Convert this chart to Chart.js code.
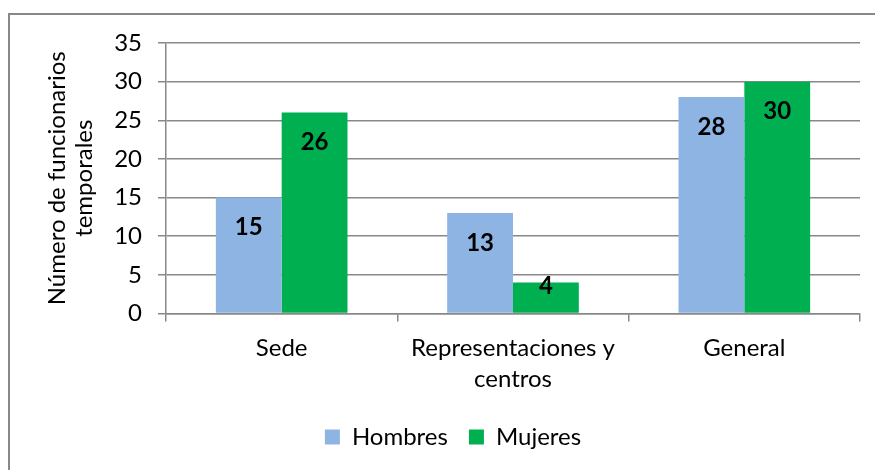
<!DOCTYPE html>
<html>
<head>
<meta charset="utf-8">
<script src="https://cdn.jsdelivr.net/npm/chart.js@4/dist/chart.umd.min.js"></script>
<style>
  html, body { margin: 0; padding: 0; background: #fff; }
  canvas { display: block; }
</style>
</head>
<body>
<canvas id="c" width="875" height="470"></canvas>
<script>
const categories = ['Sede', ['Representaciones y', 'centros'], 'General'];
const hombres = [15, 13, 28];
const mujeres = [26, 4, 30];
const seriesNames = ['Hombres', 'Mujeres'];
const yAxisTitle = ['Número de funcionarios', 'temporales'];
const yMin = 0, yMax = 35, yStep = 5;

const FONT = 'Lato';
const FS = 24;
const GRID = '#888888';

const frame = {
  id: 'frame',
  beforeDraw(chart) {
    const ctx = chart.ctx;
    ctx.save();
    ctx.fillStyle = '#fff';
    ctx.fillRect(0, 0, chart.width, chart.height);
    ctx.strokeStyle = '#888888';
    ctx.lineWidth = 2;
    ctx.strokeRect(9, 14, 900, 500);
    ctx.restore();
  }
};

const legendShift = {
  id: 'legendShift',
  afterLayout(chart) {
    if (chart.legend) { chart.legend.left += 23; chart.legend.right += 23; }
  }
};

const valueLabels = {
  id: 'valueLabels',
  afterDatasetsDraw(chart) {
    const ctx = chart.ctx;
    ctx.save();
    ctx.font = 'bold ' + FS + 'px ' + FONT;
    ctx.fillStyle = '#000';
    ctx.textAlign = 'center';
    ctx.textBaseline = 'middle';
    chart.data.datasets.forEach((ds, i) => {
      chart.getDatasetMeta(i).data.forEach((el, j) => {
        const y = Math.min(el.y + 30, el.base - 26);
        ctx.fillText(String(ds.data[j]), el.x, y);
      });
    });
    ctx.restore();
  }
};

function build() {
  new Chart(document.getElementById('c'), {
    type: 'bar',
    data: {
      labels: categories,
      datasets: [
        { label: seriesNames[0], data: hombres, backgroundColor: '#8EB4E3', borderWidth: 0,
          categoryPercentage: 0.569, barPercentage: 1 },
        { label: seriesNames[1], data: mujeres, backgroundColor: '#00B050', borderWidth: 0,
          categoryPercentage: 0.569, barPercentage: 1 }
      ]
    },
    options: {
      responsive: false,
      animation: false,
      devicePixelRatio: 1,
      layout: { padding: { left: 0, right: 15, top: 43, bottom: 11 } },
      plugins: {
        legend: {
          position: 'bottom',
          labels: {
            font: { family: FONT, size: FS },
            color: '#000',
            boxWidth: 15,
            boxHeight: 15,
            padding: 21
          }
        },
        tooltip: { enabled: false }
      },
      scales: {
        x: {
          afterFit(s) { s.height = 90.5; },
          grid: { drawOnChartArea: false, drawTicks: true, tickLength: 8, color: GRID, lineWidth: 1.5 },
          border: { display: true, color: GRID, width: 1.5 },
          ticks: {
            font: { family: FONT, size: FS, lineHeight: 1.3 },
            color: '#000',
            padding: 11,
            autoSkip: false,
            maxRotation: 0
          }
        },
        y: {
          min: yMin, max: yMax,
          afterFit(s) { s.width = 166; },
          grid: { color: GRID, lineWidth: 1.5, tickLength: 8 },
          border: { display: true, color: GRID, width: 1.5 },
          ticks: {
            stepSize: yStep,
            font: { family: FONT, size: FS },
            color: '#000',
            padding: 16
          },
          title: {
            display: true,
            text: yAxisTitle,
            font: { family: FONT, size: FS, lineHeight: 1.15 },
            color: '#000',
            padding: { top: 43, bottom: 0 }
          }
        }
      }
    },
    plugins: [frame, legendShift, valueLabels]
  });
}

if (document.fonts && document.fonts.load) {
  Promise.all([
    document.fonts.load(FS + 'px ' + FONT),
    document.fonts.load('bold ' + FS + 'px ' + FONT)
  ]).then(build, build);
} else { build(); }
</script>
</body>
</html>
